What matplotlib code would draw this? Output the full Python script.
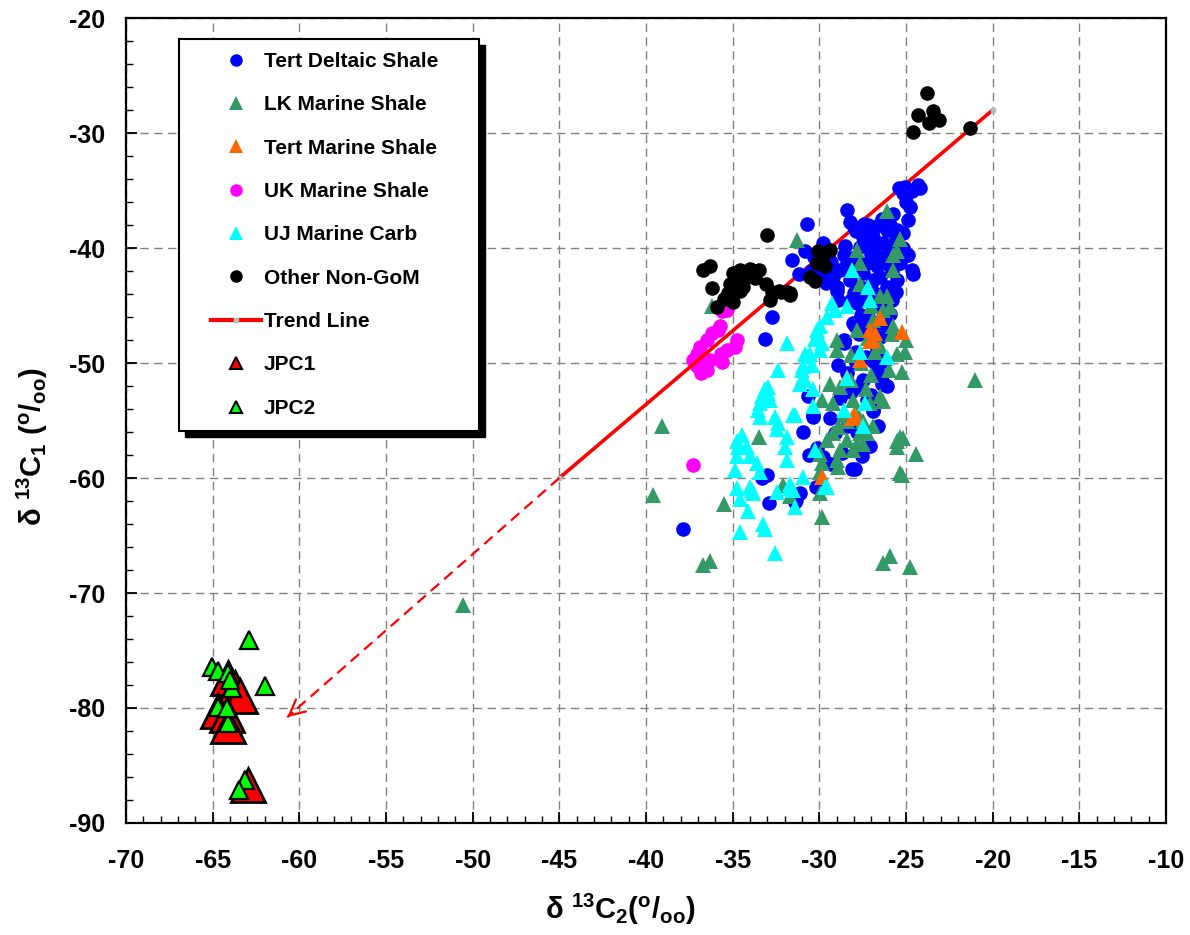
import matplotlib
matplotlib.use("Agg")
import matplotlib.pyplot as plt
from matplotlib.lines import Line2D
from matplotlib.patches import Rectangle
from matplotlib.ticker import MultipleLocator

plt.rcParams['font.family'] = ['Liberation Sans', 'DejaVu Sans']
plt.rcParams['font.weight'] = 'bold'
plt.rcParams['mathtext.default'] = 'regular'
plt.rcParams['axes.unicode_minus'] = False

# Tert Deltaic Shale
tds_x = [-25.43, -25.05, -24.67, -24.28, -24.19, -24.76, -25.15,
         -28.42, -28.23, -30.72, -30.82, -31.6, -31.2, -29.76, -27.4,
         -26.7, -26.11, -25.72, -25.53, -25.15, -24.86, -24.67, -24.57,
         -25.34, -26.5, -27.07, -27.65, -27.94, -28.42, -28.8, -29.19,
         -29.0, -28.23, -27.46, -26.88, -26.5, -26.11, -25.82, -25.9,
         -26.11, -26.5, -26.7, -27.84, -28.04, -28.6, -27.26,
         -27.46, -26.88, -27.26, -26.7, -25.9, -26.3, -29.4, -29.76,
         -30.63, -30.34, -30.92, -30.15, -28.42, -27.84, -26.88, -26.4,
         -27.56, -28.14, -27.94, -29.1, -31.1, -31.4, -28.6, -26.7, -27.26,
         -32.74, -33.13, -33.33, -33.03, -32.9, -30.34, -37.88,
         -27.94, -29.0, -26.4, -30.2, -31.34, -26.88, -28.6,
         -27.0, -26.2, -25.8, -27.5, -26.8, -26.3, -27.2, -26.0, -25.6, -27.9,
         -28.5, -29.5, -30.0, -28.0, -27.7, -27.3, -27.9, -26.2, -28.9, -29.4,
         -29.8, -26.6, -27.1, -28.8, -30.5, -29.6, -31.9,
         -28.0, -27.2, -26.4, -25.9, -26.9, -26.0, -25.5, -25.2, -27.8, -28.6,
         -28.2, -27.0, -26.4, -25.6, -27.6, -26.7, -27.4, -25.9, -26.9, -27.5,
         -26.1, -28.2, -27.0, -28.4, -27.8, -29.3, -28.7, -30.6, -25.0, -24.9,
         -29.3, -30.3, -28.9, -27.9]
tds_y = [-34.8, -34.7, -35.0, -34.5, -34.8, -36.4, -35.2,
         -36.7, -37.7, -37.9, -40.3, -41.0, -42.3, -39.6, -37.9,
         -38.1, -38.4, -37.0, -38.4, -38.7, -40.6, -41.9, -42.3,
         -41.3, -40.8, -39.9, -39.9, -40.8, -41.3, -41.9, -42.5,
         -43.4, -42.8, -42.2, -42.8, -42.5, -43.4, -44.5, -45.7,
         -46.8, -47.7, -48.9, -44.8, -46.5, -48.1, -44.2,
         -39.0, -39.0, -41.3, -41.6, -39.9, -39.6, -41.9, -42.5,
         -52.9, -54.7, -56.0, -57.4, -50.9, -52.1, -54.1, -51.8,
         -58.1, -59.2, -59.2, -56.1, -61.3, -62.1, -48.3, -50.6, -53.2,
         -46.0, -47.9, -60.0, -59.7, -62.2, -54.5, -64.4,
         -46.8, -43.7, -51.6, -60.8, -61.9, -54.2, -48.0,
         -40.5, -41.0, -42.0, -43.5, -44.8, -45.2, -46.0, -40.2, -39.0, -38.5,
         -39.8, -40.8, -41.5, -43.9, -47.5, -49.5, -50.0, -49.8, -50.2, -54.8,
         -58.2, -55.5, -57.2, -53.0, -42.0, -43.0, -43.8,
         -38.2, -38.0, -37.5, -38.0, -40.0, -41.5, -42.8, -40.0, -41.8, -40.6,
         -44.5, -43.5, -44.0, -43.8, -45.8, -46.5, -47.0, -47.2, -49.8, -51.5,
         -52.0, -52.5, -52.8, -55.5, -56.0, -58.8, -57.8, -58.0, -36.0, -37.6,
         -41.2, -40.8, -44.5, -49.0]

# LK Marine Shale
lkm_x = [-50.55, -39.1, -35.5, -36.69, -36.3, -33.5, -32.1, -31.7, -29.86, -29.95,
         -25.24, -24.41, -25.53, -25.15, -26.3, -25.9, -24.76, -29.95, -29.86, -29.0,
         -28.8, -28.42, -27.84, -27.46, -27.65, -29.2, -29.57,
         -36.2, -31.3, -39.57, -26.1, -25.34, -25.72, -27.84, -27.65, -25.72, -25.53,
         -27.65, -26.5, -26.11, -26.3, -25.9, -26.88, -25.72, -27.84, -29.0, -29.0,
         -25.53, -25.05, -25.24, -26.0, -26.5, -27.07, -28.04, -28.8, -29.2, -29.86,
         -28.42, -27.26, -28.04, -29.95, -28.9, -25.34, -25.53, -25.34, -21.0,
         -27.6, -27.0, -26.8, -28.2, -27.3, -26.3, -27.9, -28.6, -27.5, -26.9, -28.9,
         -27.2, -26.5, -25.8, -28.2, -29.4, -25.0, -27.0]
lkm_y = [-71.0, -55.5, -62.3, -67.6, -67.2, -56.4, -60.6, -61.6, -63.4, -61.3,
         -59.7, -57.9, -56.8, -56.5, -67.4, -66.8, -67.7, -57.9, -58.7, -58.4,
         -57.6, -56.7, -57.0, -57.0, -56.1, -56.1, -56.7,
         -45.0, -39.3, -61.5, -36.8, -39.2, -40.6, -40.2, -41.3, -41.9, -40.3,
         -43.1, -44.2, -44.2, -45.4, -45.1, -46.3, -46.8, -47.1, -48.0, -48.9,
         -49.2, -49.0, -50.8, -50.6, -52.9, -53.5, -53.2, -52.1, -53.5, -53.2,
         -55.0, -56.1, -57.6, -59.5, -59.0, -56.4, -57.3, -59.6, -51.5,
         -50.0, -51.0, -49.0, -51.5, -52.3, -53.3, -54.2, -54.5, -55.0, -55.5, -55.6,
         -47.8, -48.5, -47.5, -49.3, -51.8, -48.0, -45.0]

# Tert Marine Shale
tms_x = [-26.5, -26.78, -25.24, -26.88, -27.07, -27.65, -27.94, -28.14, -29.86, -27.07, -28.42]
tms_y = [-46.1, -47.4, -47.3, -48.0, -48.1, -49.7, -54.5, -54.8, -59.9, -47.1, -51.2]

# UK Marine Shale
ukm_x = [-35.63, -35.73, -35.82, -36.2, -36.5, -36.88, -37.07, -36.7, -36.3, -35.7,
         -35.34, -34.76, -34.86, -35.63, -36.8, -36.5, -37.07, -37.27, -35.3, -37.27]
ukm_y = [-45.5, -46.8, -47.1, -47.4, -48.0, -48.6, -49.2, -49.5, -49.7, -49.2,
         -48.9, -48.0, -48.6, -49.9, -50.9, -50.6, -50.3, -49.7, -45.4, -58.9]

# UJ Marine Carb
ujc_x = [-31.88, -32.36, -32.94, -33.13, -33.33, -33.42, -33.52, -33.42, -32.94, -32.84,
         -32.55, -32.36, -32.46, -31.4, -31.88, -31.98, -31.88, -34.48, -34.67, -34.77,
         -34.86, -34.19, -34.0, -33.6, -33.42, -34.77, -34.57, -34.1, -34.57, -33.9,
         -33.8, -33.23, -33.13, -32.46, -31.7, -31.4, -30.92, -30.82, -30.92, -30.82,
         -30.63, -30.44, -30.34, -30.15, -30.24, -30.34, -30.24, -28.14, -27.17, -27.07,
         -28.42, -27.65, -26.11, -28.6, -27.36, -27.46, -29.67, -29.28, -29.57, -29.95,
         -30.15, -29.86, -29.95, -30.53, -30.92, -31.1, -28.42, -34.77, -34.0, -31.5,
         -31.7, -32.55, -29.57, -31.5, -31.0, -29.1]
ujc_y = [-48.3, -50.6, -52.1, -52.3, -52.9, -53.5, -54.1, -54.7, -52.6, -53.2,
         -54.7, -55.2, -55.7, -54.5, -56.4, -57.3, -58.4, -56.3, -57.3, -58.1,
         -59.3, -57.3, -58.1, -58.7, -59.5, -60.9, -61.8, -62.9, -64.7, -61.0,
         -61.3, -64.0, -64.4, -61.2, -60.9, -62.5, -59.9, -49.2, -50.3, -51.5,
         -49.4, -50.2, -52.3, -47.1, -47.9, -53.7, -57.6, -41.9, -43.4, -44.5,
         -51.3, -49.0, -49.5, -54.1, -53.5, -55.5, -60.8, -44.8, -46.0, -46.8,
         -47.7, -48.3, -48.9, -49.2, -51.2, -51.8, -45.0, -56.8, -60.8, -61.0,
         -60.5, -66.5, -60.8, -54.5, -50.6, -45.4]

# Other Non-GoM
ong_x = [-23.78, -24.3, -23.43, -23.66, -23.09, -24.59, -21.3,
         -36.69, -36.3, -36.2, -35.9, -35.5, -35.25, -34.96, -34.76, -34.57, -34.38,
         -34.0, -33.5, -33.7, -33.1, -32.74, -32.84, -32.2, -31.7, -34.96, -35.15,
         -34.57, -34.2, -33.03,
         -30.05, -29.76, -29.38, -29.67, -30.15, -30.53, -30.24, -31.88, -31.7, -32.3]
ong_y = [-26.5, -28.4, -28.1, -29.1, -28.9, -29.9, -29.6,
         -41.9, -41.6, -43.5, -45.1, -44.4, -43.9, -42.2, -42.8, -41.9, -43.4,
         -41.8, -41.9, -42.6, -43.1, -43.8, -44.5, -43.8, -43.9, -44.7, -43.1,
         -43.7, -42.5, -38.9,
         -40.3, -40.6, -40.2, -41.6, -41.3, -42.5, -42.9, -43.8, -44.1, -43.7]

# Trend line and extrapolation arrow
trend_x = [-45, -20]
trend_y = [-60, -28]
arrow_end = (-60.7, -80.8)

# JPC1 / JPC2
jpc1_x = [-64.1, -63.7, -63.4, -64.7, -64.2, -64.1, -62.95]
jpc1_y = [-77.4, -78.3, -79.0, -80.3, -80.6, -81.6, -86.7]
jpc2_x = [-62.9, -65.06, -64.7, -64.1, -63.9, -61.98, -64.7, -64.1, -63.14, -63.5, -64.2, -64.0]
jpc2_y = [-74.1, -76.4, -76.8, -77.0, -78.3, -78.1, -79.9, -81.3, -86.3, -87.1, -80.0, -77.6]

labels = ['Tert Deltaic Shale', 'LK Marine Shale', 'Tert Marine Shale', 'UK Marine Shale',
          'UJ Marine Carb', 'Other Non-GoM', 'Trend Line', 'JPC1', 'JPC2']

c_blue, c_green, c_orange = '#0000FF', '#339966', '#FF6600'
c_mag, c_cyan = '#FF00FF', '#00FFFF'
ms_c, ms_t = 10.5, 11.5

fig = plt.figure(figsize=(11.9, 9.35), dpi=100)
ax = fig.add_axes([0.1059, 0.1198, 0.8739, 0.8609])

ax.plot(ukm_x, ukm_y, 'o', color=c_mag, ms=ms_c, mew=0, zorder=3)
ax.plot(trend_x, trend_y, '-', color='red', lw=2.6, marker='s', ms=3,
        mfc='#BBBBBB', mec='#BBBBBB', zorder=4)
ax.plot([trend_x[0], arrow_end[0]], [trend_y[0], arrow_end[1]], color='red', lw=1.6,
        dashes=(5, 3), zorder=4)
# solid head at the tip of the dashed extrapolation
ax.annotate('', xy=arrow_end,
            xytext=(arrow_end[0] + 0.3, arrow_end[1] + 0.3 * 32 / 25),
            arrowprops=dict(arrowstyle='->', color='red', lw=1.6, mutation_scale=28,
                            shrinkA=0, shrinkB=0), zorder=4)
ax.plot(tds_x, tds_y, 'o', color=c_blue, ms=ms_c, mew=0, zorder=5)
ax.plot(lkm_x, lkm_y, '^', color=c_green, ms=ms_t, mew=0, zorder=6)
ax.plot(tms_x, tms_y, '^', color=c_orange, ms=ms_t, mew=0, zorder=7)
ax.plot(ujc_x, ujc_y, '^', color=c_cyan, ms=ms_t, mew=0, zorder=8)
ax.plot(ong_x, ong_y, 'o', color='black', ms=ms_c, mew=0, zorder=9)
ax.plot(jpc1_x, jpc1_y, '^', mfc='red', mec='black', mew=2, ms=24, ls='none', zorder=10)
ax.plot(jpc2_x, jpc2_y, '^', mfc='#00FF00', mec='black', mew=1.6, ms=13, ls='none', zorder=11)

ax.set_xlim(-70, -10)
ax.set_ylim(-90, -20)
ax.xaxis.set_major_locator(MultipleLocator(5))
ax.xaxis.set_minor_locator(MultipleLocator(1))
ax.yaxis.set_major_locator(MultipleLocator(10))
ax.yaxis.set_minor_locator(MultipleLocator(2))
ax.grid(True, which='major', color='#808080', lw=1, dashes=(6, 4), zorder=0)
ax.set_axisbelow(True)
ax.tick_params(which='both', direction='in', top=False, right=False)
ax.tick_params(which='major', length=8, width=1.3, labelsize=18)
ax.tick_params(which='minor', length=5, width=1)
ax.tick_params(axis='x', which='major', pad=19)
ax.tick_params(axis='y', which='major', pad=15)
for s in ax.spines.values():
    s.set_linewidth(1.6)

ax.set_xlabel('δ $^{13}$C$_2$($^o$/$_{oo}$)', fontsize=21, fontweight='bold')
ax.set_ylabel('δ $^{13}$C$_1$ ($^o$/$_{oo}$)', fontsize=21, fontweight='bold')
ax.xaxis.set_label_coords(0.475, -0.085)
ax.yaxis.set_label_coords(-0.073, 0.467)

# legend box with shadow
ax.add_patch(Rectangle((0.051 + 6 / 1040, 0.487 - 6 / 805), 0.2884, 0.4869,
                       transform=ax.transAxes, facecolor='black', edgecolor='black', zorder=20))
ax.add_patch(Rectangle((0.051, 0.487), 0.2884, 0.4869, transform=ax.transAxes,
                       facecolor='white', edgecolor='black', lw=1.5, zorder=21))

handles = [
    Line2D([], [], ls='none', marker='o', color=c_blue, ms=9, mew=0),
    Line2D([], [], ls='none', marker='^', color=c_green, ms=10, mew=0),
    Line2D([], [], ls='none', marker='^', color=c_orange, ms=10, mew=0),
    Line2D([], [], ls='none', marker='o', color=c_mag, ms=9, mew=0),
    Line2D([], [], ls='none', marker='^', color=c_cyan, ms=10, mew=0),
    Line2D([], [], ls='none', marker='o', color='black', ms=9, mew=0),
    Line2D([], [], color='red', lw=3, marker='s', ms=3, mfc='#BBBBBB', mec='#BBBBBB'),
    Line2D([], [], ls='none', marker='^', mfc='red', mec='black', mew=1.5, ms=9),
    Line2D([], [], ls='none', marker='^', mfc='#00FF00', mec='black', mew=1.5, ms=9),
]
leg = ax.legend(handles, labels, loc='upper left', bbox_to_anchor=(0.0817, 0.958),
                frameon=False, prop={'weight': 'bold', 'size': 15}, handlelength=2.4,
                handletextpad=0.15, labelspacing=1.17, borderpad=0, borderaxespad=0,
                numpoints=1)
leg.set_zorder(22)

fig.savefig('out.png', dpi=100)
